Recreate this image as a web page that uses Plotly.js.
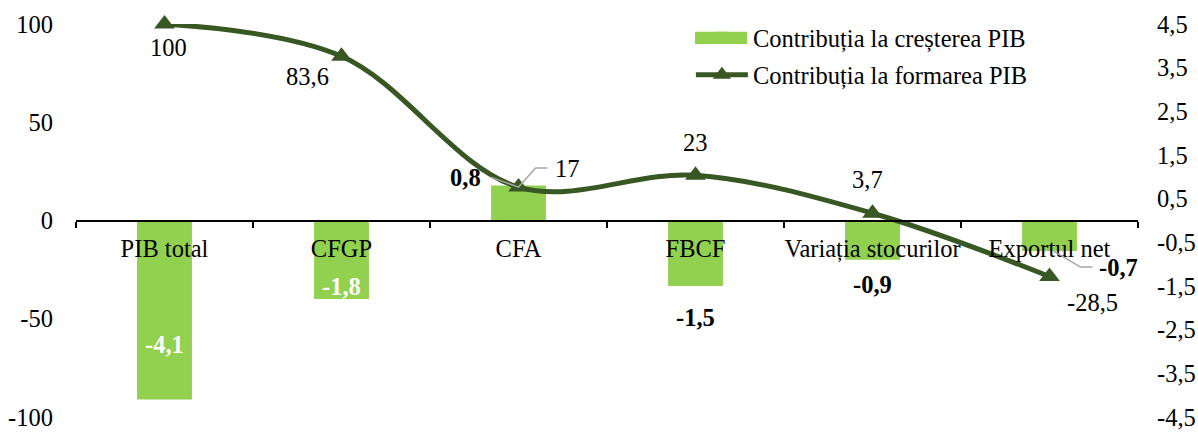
<!DOCTYPE html>
<html>
<head>
<meta charset="utf-8">
<script src="https://cdn.plot.ly/plotly-3.0.1.min.js"></script>
<style>html,body{margin:0;padding:0;background:#fff;}#chart{width:1198px;height:432px;}</style>
</head>
<body>
<div id="chart"></div>
<script>
const categories = ['PIB total', 'CFGP', 'CFA', 'FBCF', 'Variația stocurilor', 'Exportul net'];
const growthContribution = [-4.1, -1.8, 0.8, -1.5, -0.9, -0.7];
const formationContribution = [100, 83.6, 17, 23, 3.7, -28.5];
const leftTicks = [-100, -50, 0, 50, 100];
const rightTicks = [-4.5, -3.5, -2.5, -1.5, -0.5, 0.5, 1.5, 2.5, 3.5, 4.5];
const seriesNames = ['Contribuția la creșterea PIB', 'Contribuția la formarea PIB'];

const fmt = v => String(v).replace('.', ',');
const FONT = '"Liberation Serif", "Times New Roman", serif';
const FS = 24.5;
const LINE_COLOR = '#385723';
const BAR_COLOR = '#92D050';

const bars = {
  type: 'bar', x: categories, y: growthContribution, yaxis: 'y', name: seriesNames[0],
  marker: {color: BAR_COLOR}, width: 0.31, hoverinfo: 'skip', legendgroup: 'a'
};
const line = {
  type: 'scatter', mode: 'lines+markers', x: categories, y: formationContribution, yaxis: 'y2',
  name: seriesNames[1], line: {color: LINE_COLOR, width: 5, shape: 'spline', smoothing: 1},
  marker: {symbol: 'triangle-up', size: 18, color: LINE_COLOR}, hoverinfo: 'skip',
  cliponaxis: false, legendgroup: 'b'
};

// label offsets (pixels) for bar labels and line labels
const barLabelStyle = [
  {dx: 0, dy: 55, color: '#fff'},
  {dx: 0, dy: 13, color: '#fff'},
  {dx: -53, dy: 8, color: '#000'},
  {dx: 0, dy: -31, color: '#000'},
  {dx: 0, dy: -25, color: '#000'},
  {dx: 69, dy: -16, color: '#000'}
];
const lineLabelStyle = [
  {dx: 4, dy: -23}, {dx: -34, dy: -20}, {dx: 49, dy: 19},
  {dx: 0, dy: 33}, {dx: -5, dy: 34}, {dx: 43, dy: -26}
];

const annotations = [];
categories.forEach((c, i) => {
  const b = barLabelStyle[i];
  annotations.push({x: c, y: growthContribution[i], xref: 'x', yref: 'y', text: '<b>' + fmt(growthContribution[i]) + '</b>',
    showarrow: false, xshift: b.dx, yshift: b.dy, font: {family: FONT, size: FS, color: b.color}});
  const l = lineLabelStyle[i];
  annotations.push({x: c, y: formationContribution[i], xref: 'x', yref: 'y2', text: fmt(formationContribution[i]),
    showarrow: false, xshift: l.dx, yshift: l.dy, font: {family: FONT, size: FS, color: '#000'}});
});

const leader = (cat, yv, yref, path) => ({
  type: 'path', xref: 'x', yref: yref, xsizemode: 'pixel', ysizemode: 'pixel',
  xanchor: cat, yanchor: yv, path: path, line: {color: '#a6a6a6', width: 1.5}, layer: 'above'
});
const shapes = [
  leader(categories[2], formationContribution[2], 'y2', 'M -28 10 L 0 0 L 17 19 L 29 19'),
  leader(categories[5], growthContribution[5], 'y', 'M 4 0 L 31 -16 L 43 -16'),
  // wide legend swatch for the bar series (Excel-style)
  {type: 'rect', xref: 'paper', yref: 'paper', x0: 0.5829, x1: 0.6318, y0: 0.949, y1: 0.980,
   fillcolor: BAR_COLOR, line: {width: 0}, layer: 'above'}
];

const layout = {
  width: 1198, height: 432,
  margin: {l: 76, r: 60, t: 24, b: 15},
  paper_bgcolor: '#fff', plot_bgcolor: '#fff',
  font: {family: FONT, size: FS, color: '#000'},
  showlegend: true,
  legend: {x: 0.579, xanchor: 'left', y: 1.022, yanchor: 'top', bgcolor: 'rgba(0,0,0,0)',
    font: {family: FONT, size: FS, color: '#000'}, traceorder: 'grouped', tracegroupgap: 2, itemwidth: 52},
  xaxis: {
    type: 'category', anchor: 'free', position: 0.5, showline: true, linecolor: '#000', linewidth: 2,
    ticks: 'outside', tickson: 'boundaries', ticklen: 6, tickwidth: 2, tickcolor: '#000',
    showgrid: false, zeroline: false, tickfont: {family: FONT, size: FS, color: '#000'},
    tickangle: 0, ticklabelstandoff: 6, fixedrange: true, range: [-0.5, 5.5]
  },
  yaxis: {
    side: 'right', range: [-4.5, 4.5], tickvals: rightTicks, ticktext: rightTicks.map(fmt),
    showgrid: false, zeroline: false, showline: false, ticks: '', ticklabelstandoff: 18,
    ticklabeloverflow: 'allow', tickfont: {family: FONT, size: FS, color: '#000'}, fixedrange: true
  },
  yaxis2: {
    side: 'left', overlaying: 'y', range: [-100, 100], tickvals: leftTicks, ticktext: leftTicks.map(fmt),
    showgrid: false, zeroline: false, showline: false, ticks: '', ticklabelstandoff: 22,
    ticklabeloverflow: 'allow', tickfont: {family: FONT, size: FS, color: '#000'}, fixedrange: true
  },
  annotations: annotations,
  shapes: shapes,
  bargap: 0.69
};

Plotly.newPlot('chart', [bars, line], layout, {displayModeBar: false, staticPlot: true});
</script>
</body>
</html>
